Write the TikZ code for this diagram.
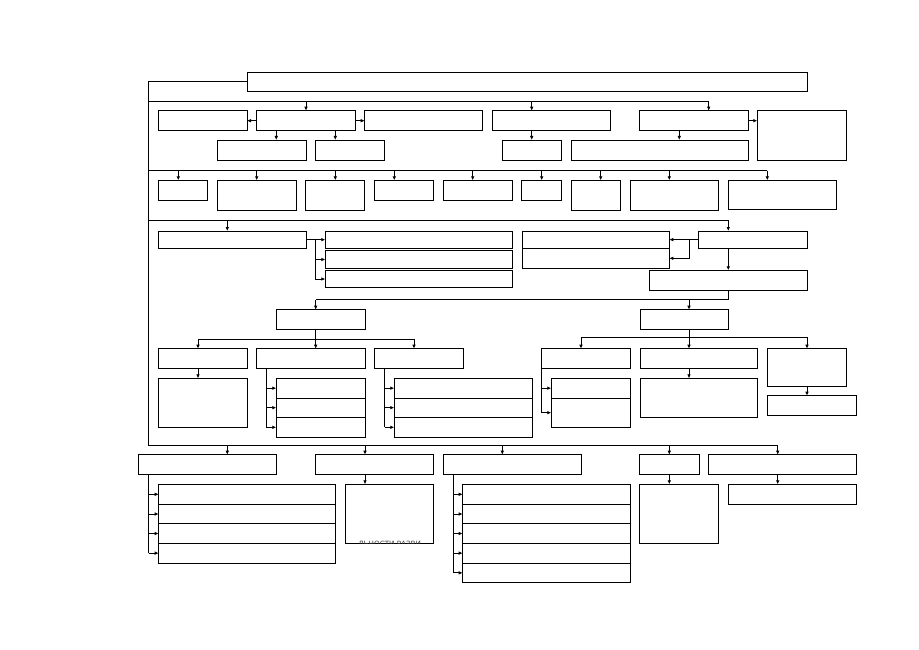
\documentclass[tikz,border=0pt]{standalone}
\usepackage{fontspec}
\newfontfamily\cyrfont{DejaVu Sans}
\usetikzlibrary{arrows.meta}
\tikzset{
  bx/.style={draw, line width=0.9pt, inner sep=0pt, outer sep=0pt},
  ln/.style={line width=0.9pt},
  arr/.style={line width=0.9pt, -{Latex[length=4pt,width=3.6pt]}}
}
\newcommand\bx[5]{\node[bx, minimum width={#4-#2}, minimum height={#5-#3}] (#1) at ({(#2+#4)/2},{(#3+#5)/2}) {};}
\begin{document}
\begin{tikzpicture}[x=1pt,y=-1pt]
\useasboundingbox (0,0) rectangle (919,650);
% boxes
\bx{T}{247}{72}{807}{91.3}
\bx{A1}{158.3}{110.7}{247}{130.7}
\bx{A2}{256.3}{110.7}{355}{130.7}
\bx{A3}{364.7}{110.7}{482.7}{130.7}
\bx{A4}{492.3}{110.7}{610.3}{130.7}
\bx{A5}{639.7}{110.7}{748.3}{130.7}
\bx{A6}{757.3}{110.7}{846.7}{160}
\bx{B1}{217.3}{140}{306}{160}
\bx{B2}{315.7}{140}{384.7}{160}
\bx{B3}{502.3}{140}{561.3}{160}
\bx{B4}{571}{140}{748.3}{160}
\bx{C1}{158.3}{180.3}{207.7}{200.3}
\bx{C2}{217.3}{180.3}{296.3}{210.3}
\bx{C3}{305.7}{180.3}{364.7}{210.3}
\bx{C4}{374.3}{180.3}{433.7}{200.3}
\bx{C5}{443.3}{180.3}{512.3}{200.3}
\bx{C6}{521.7}{180.3}{561.3}{200.3}
\bx{C7}{571}{180.3}{620.3}{210.3}
\bx{C8}{630}{180.3}{718.7}{210.3}
\bx{C9}{728.3}{180.3}{836.3}{209}
\bx{D1}{158.3}{231}{306}{248.3}
\bx{E1}{325.3}{231}{512.3}{248.3}
\bx{E2}{325.3}{250.7}{512.3}{268.3}
\bx{E3}{325.3}{270.3}{512.3}{287.7}
\bx{F1}{522}{231}{669.3}{248.3}
\bx{F2}{522}{248.3}{669.3}{268.3}
\bx{G}{698.7}{231}{807}{248.3}
\bx{H}{649.7}{270.3}{807}{290.3}
\bx{I1}{276.3}{309.7}{365}{329.3}
\bx{I2}{640}{309.7}{728.7}{329.3}
\bx{J1}{158.3}{348.7}{247}{368.7}
\bx{J2}{256.3}{348.7}{365}{368.7}
\bx{J3}{374.3}{348.7}{463.3}{368.7}
\bx{K1}{158.3}{378.3}{247}{427.3}
\bx{L1}{276.3}{378.3}{365}{398}
\bx{L2}{276.3}{398}{365}{417.3}
\bx{L3}{276.3}{417.3}{365}{437.3}
\bx{M1}{394.3}{378.3}{532}{398}
\bx{M2}{394.3}{398}{532}{417.3}
\bx{M3}{394.3}{417.3}{532}{437.3}
\bx{N1}{541.7}{348.7}{630.3}{368.7}
\bx{N2}{640}{348.7}{757.7}{368.7}
\bx{N3}{767.7}{348.7}{846.3}{386.3}
\bx{O1a}{551.3}{378.3}{630.3}{398}
\bx{O1b}{551.3}{398}{630.3}{427.3}
\bx{O2}{640}{378.3}{757.7}{417.7}
\bx{O3}{767.7}{395.7}{856.3}{415.7}
\bx{P1}{138.3}{454.7}{276.7}{474.3}
\bx{P2}{315.7}{454.7}{433.7}{474.3}
\bx{P3}{443.3}{454.7}{581}{474.3}
\bx{P4}{639.7}{454.7}{699}{474.3}
\bx{P5}{708.7}{454.7}{856}{474.3}
\bx{Q1a}{158.7}{484.3}{335.3}{504.3}
\bx{Q1b}{158.7}{504.3}{335.3}{523.7}
\bx{Q1c}{158.7}{523.7}{335.3}{543.3}
\bx{Q1d}{158.7}{543.3}{335.3}{563}
\bx{Q2}{345.3}{484.3}{433.7}{543.3}
\bx{Q3a}{462.7}{484.3}{630.3}{504.3}
\bx{Q3b}{462.7}{504.3}{630.3}{523.7}
\bx{Q3c}{462.7}{523.7}{630.3}{543.3}
\bx{Q3d}{462.7}{543.3}{630.3}{563}
\bx{Q3e}{462.7}{563}{630.3}{582.7}
\bx{Q4}{639.7}{484.3}{718.7}{543.3}
\bx{Q5}{728.3}{484.3}{856}{504}
% clipped text fragment at the foot of Q2
\begin{scope}
\clip (345.3,540.4) rectangle (433.7,543.3);
\node[inner sep=0pt, anchor=north, text=black!75, font=\cyrfont\fontsize{7.2}{8}\selectfont] (q2t) at (389.7,540.5) {ЛЬНОСТИ РАЗВИ};
\end{scope}
% spine and buses
\coordinate (s1) at (148,101.3);
\coordinate (s2) at (148,170.7);
\coordinate (s3) at (148,220);
\coordinate (s4) at (148,445);
\draw[ln] (T.west) -| (s4);
\coordinate (b1e) at (708.7,101.3);
\coordinate (b2e) at (767.3,170.7);
\coordinate (b3e) at (728.3,220);
\coordinate (b4e) at (777.7,445);
\draw[ln] (s1) -- (b1e);
\draw[ln] (s2) -- (b2e);
\draw[ln] (s3) -- (b3e);
\draw[ln] (s4) -- (b4e);
% bus 1
\coordinate (x1a) at (306,101.3);
\coordinate (x1b) at (531.7,101.3);
\draw[arr] (x1a) -- (x1a |- A2.north);
\draw[arr] (x1b) -- (x1b |- A4.north);
\draw[arr] (b1e) -- (b1e |- A5.north);
\draw[arr] (A2.west) -- (A1.east);
\draw[arr] (A2.east) -- (A3.west);
\draw[arr] (A5.east) -- (A5.east -| A6.west);
\coordinate (y1) at (276.3,130.7);
\coordinate (y2) at (335.3,130.7);
\coordinate (y3) at (531.7,130.7);
\coordinate (y4) at (679.3,130.7);
\draw[arr] (y1) -- (y1 |- B1.north);
\draw[arr] (y2) -- (y2 |- B2.north);
\draw[arr] (y3) -- (y3 |- B3.north);
\draw[arr] (y4) -- (y4 |- B4.north);
% bus 2
\foreach \xx/\nn in {178.3/C1,256.7/C2,335.3/C3,394.3/C4,472.7/C5,541.7/C6,600.7/C7,669.3/C8,767.3/C9}{
  \draw[arr] (\xx,170.7) -- (\xx,170.7 |- \nn.north);
}
% bus 3
\coordinate (x3a) at (227.3,220);
\draw[arr] (x3a) -- (x3a |- D1.north);
\draw[arr] (b3e) -- (b3e |- G.north);
\coordinate (dj) at (315.7,239.65);
\draw[arr] (D1.east) -- (E1.west);
\draw[arr] (dj) |- (E2.west);
\draw[arr] (dj) |- (E3.west);
\coordinate (gj) at (689.3,239.65);
\draw[arr] (G.west) -- (F1.east);
\draw[arr] (gj) |- (F2.east);
\draw[arr] (b3e |- G.south) -- (b3e |- H.north);
\coordinate (hj) at (728.3,299.7);
\coordinate (hl) at (315.7,299.7);
\coordinate (hr) at (689,299.7);
\draw[ln] (b3e |- H.south) -- (hj) -- (hl);
\draw[arr] (hl) -- (hl |- I1.north);
\draw[arr] (hr) -- (hr |- I2.north);
% I1 children
\coordinate (i1j) at (315.7,339);
\coordinate (i1l) at (198,339);
\coordinate (i1r) at (414,339);
\draw[ln] (i1j |- I1.south) -- (i1j);
\draw[ln] (i1l) -- (i1r);
\draw[arr] (i1l) -- (i1l |- J1.north);
\draw[arr] (i1j) -- (i1j |- J2.north);
\draw[arr] (i1r) -- (i1r |- J3.north);
\draw[arr] (i1l |- J1.south) -- (i1l |- K1.north);
\coordinate (j2x) at (266.3,368.7);
\draw[ln] (j2x) -- (j2x |- L3.west);
\draw[arr] (j2x |- L1.west) -- (L1.west);
\draw[arr] (j2x |- L2.west) -- (L2.west);
\draw[arr] (j2x |- L3.west) -- (L3.west);
\coordinate (j3x) at (384.7,368.7);
\draw[ln] (j3x) -- (j3x |- M3.west);
\draw[arr] (j3x |- M1.west) -- (M1.west);
\draw[arr] (j3x |- M2.west) -- (M2.west);
\draw[arr] (j3x |- M3.west) -- (M3.west);
% I2 children
\coordinate (i2j) at (689,337);
\coordinate (i2l) at (581,337);
\coordinate (i2r) at (807,337);
\draw[ln] (i2j |- I2.south) -- (i2j);
\draw[ln] (i2l) -- (i2r);
\draw[arr] (i2l) -- (i2l |- N1.north);
\draw[arr] (i2j) -- (i2j |- N2.north);
\draw[arr] (i2r) -- (i2r |- N3.north);
\coordinate (n1x) at (541.7,368.7);
\draw[ln] (n1x) -- (n1x |- O1b.west);
\draw[arr] (n1x |- O1a.west) -- (O1a.west);
\draw[arr] (n1x |- O1b.west) -- (O1b.west);
\draw[arr] (i2j |- N2.south) -- (i2j |- O2.north);
\draw[arr] (i2r |- N3.south) -- (i2r |- O3.north);
% bus 4
\coordinate (x4a) at (227.3,445);
\coordinate (x4b) at (365,445);
\coordinate (x4c) at (502.3,445);
\coordinate (x4d) at (669.3,445);
\draw[arr] (x4a) -- (x4a |- P1.north);
\draw[arr] (x4b) -- (x4b |- P2.north);
\draw[arr] (x4c) -- (x4c |- P3.north);
\draw[arr] (x4d) -- (x4d |- P4.north);
\draw[arr] (b4e) -- (b4e |- P5.north);
\coordinate (p1x) at (148.7,474.3);
\draw[ln] (p1x) -- (p1x |- Q1d.west);
\foreach \q in {Q1a,Q1b,Q1c,Q1d}{\draw[arr] (p1x |- \q.west) -- (\q.west);}
\draw[arr] (x4b |- P2.south) -- (x4b |- Q2.north);
\coordinate (p3x) at (453,474.3);
\draw[ln] (p3x) -- (p3x |- Q3e.west);
\foreach \q in {Q3a,Q3b,Q3c,Q3d,Q3e}{\draw[arr] (p3x |- \q.west) -- (\q.west);}
\draw[arr] (x4d |- P4.south) -- (x4d |- Q4.north);
\draw[arr] (b4e |- P5.south) -- (b4e |- Q5.north);
\end{tikzpicture}
\end{document}
